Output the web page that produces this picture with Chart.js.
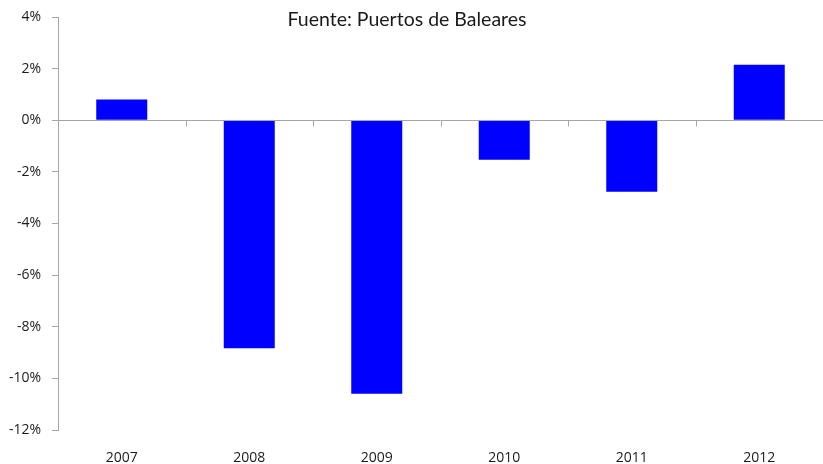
<!DOCTYPE html>
<html lang="es">
<head>
<meta charset="UTF-8">
<title>Puertos de Baleares</title>
<script src="https://cdn.jsdelivr.net/npm/chart.js"></script>
<style>
  body { margin: 0; padding: 0; background: #fff; }
  .wrap { width: 823px; height: 464px; }
</style>
</head>
<body>
  <div class="wrap"><canvas id="c"></canvas></div>
  <script>
    const years = ['2007', '2008', '2009', '2010', '2011', '2012'];
    const change = [0.8, -8.83, -10.6, -1.53, -2.77, 2.15];
    const yTicks = [-12, -10, -8, -6, -4, -2, 0, 2, 4];
    const source = 'Fuente: Puertos de Baleares';

    // zero line with little ticks between the years, plus the source note
    const extras = {
      id: 'extras',
      afterDatasetsDraw(chart) {
        const { ctx, chartArea, scales } = chart;
        const y0 = Math.round(scales.y.getPixelForValue(0)) + 0.5;
        ctx.save();
        ctx.strokeStyle = '#a6a6a6';
        ctx.lineWidth = 1;
        ctx.beginPath();
        ctx.moveTo(chartArea.left, y0);
        ctx.lineTo(chartArea.right, y0);
        for (let i = 0; i < years.length; i++) {
          const step = scales.x.getPixelForValue(1) - scales.x.getPixelForValue(0);
          const xb = Math.round(scales.x.getPixelForValue(i) + step / 2) + 0.5;
          ctx.moveTo(xb, y0);
          ctx.lineTo(xb, y0 + 6);
        }
        ctx.stroke();
        ctx.fillStyle = '#1a1a1a';
        ctx.font = '19.5px Lato';
        ctx.textAlign = 'center';
        ctx.textBaseline = 'middle';
        ctx.fillText(source, 407, 20);
        ctx.restore();
      }
    };

    new Chart(document.getElementById('c'), {
      type: 'bar',
      data: {
        labels: years,
        datasets: [{
          data: change,
          backgroundColor: '#0000ff',
          barPercentage: 0.4,
          categoryPercentage: 1
        }]
      },
      options: {
        responsive: true,
        maintainAspectRatio: false,
        animation: false,
        layout: { padding: { top: 17, right: -3, bottom: 0, left: 0 } },
        plugins: { legend: { display: false }, tooltip: { enabled: false } },
        scales: {
          x: {
            grid: { display: false },
            border: { display: false },
            ticks: { color: '#1a1a1a', font: { family: 'Open Sans', size: 14 }, padding: 12 },
            afterFit(s) { s.height = 34; }
          },
          y: {
            min: -12,
            max: 4,
            afterBuildTicks(s) { s.ticks = yTicks.map(v => ({ value: v })); },
            grid: { drawOnChartArea: false, tickLength: 6, color: '#a6a6a6' },
            border: { color: '#a6a6a6' },
            ticks: {
              color: '#1a1a1a',
              font: { family: 'Open Sans', size: 14 },
              padding: 11,
              callback: v => v + '%'
            },
            afterFit(s) { s.width = 58; s.paddingTop = 0; s.paddingBottom = 0; }
          }
        }
      },
      plugins: [extras]
    });
  </script>
</body>
</html>
